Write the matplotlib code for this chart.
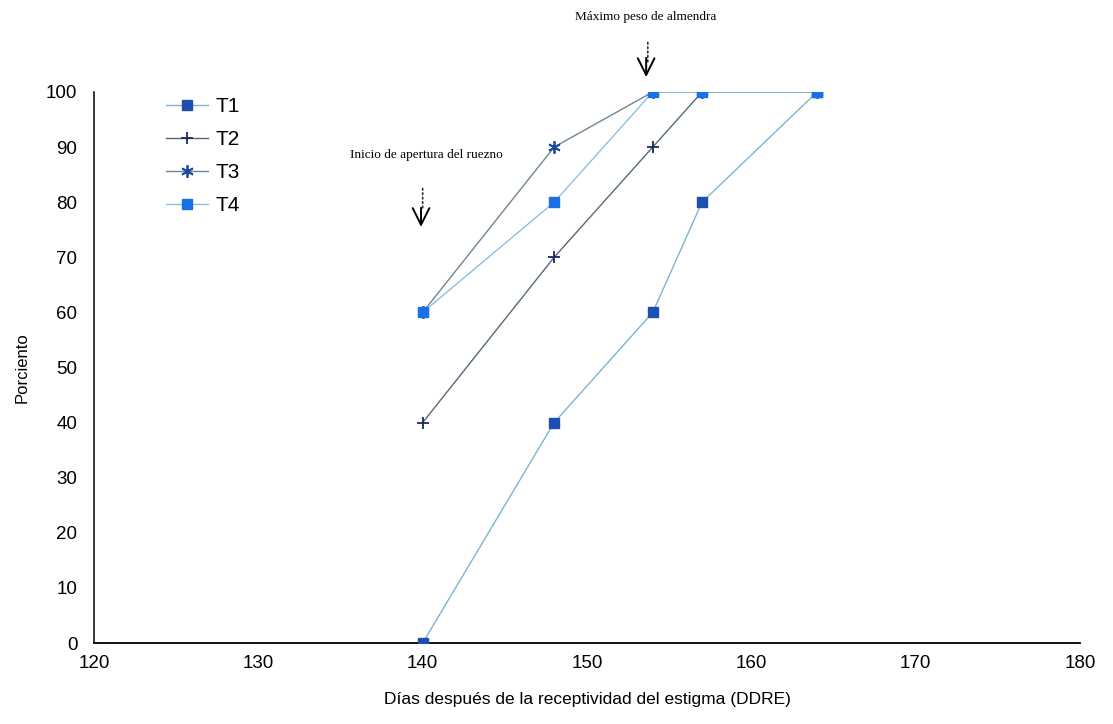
import numpy as np
import matplotlib
matplotlib.use('Agg')
import matplotlib.pyplot as plt

dias = [140, 148, 154, 157, 164]
t1 = [0, 40, 60, 80, 100]
t2 = [40, 70, 90, 100, 100]
t3 = [60, 90, 100, 100, 100]
t4 = [60, 80, 100, 100, 100]
xticks = [120, 130, 140, 150, 160, 170, 180]
yticks = [0, 10, 20, 30, 40, 50, 60, 70, 80, 90, 100]

plt.rcParams['font.family'] = ['Liberation Sans', 'DejaVu Sans']

fig = plt.figure(figsize=(11.13, 7.24), dpi=100)
ax = fig.add_axes([94/1113, 1-643/724, (1080-94)/1113, (643-92)/724])

ax.plot(dias, t1, c='#7fb3d3', lw=1, marker='s', ms=7, mfc='#1c4fb0', mec='#1c4fb0', label='T1', zorder=3)
ax.plot(dias, t2, c='#55697a', lw=1, marker='+', ms=8, mew=1.3, mec='#1a2a60', label='T2', zorder=3)
ax.plot(dias, t3, c='#6f8596', lw=1, marker=(6, 2, 0), ms=9, mew=1.3, mec='#1f4a9a', label='T3', zorder=3)
ax.plot(dias, t4, c='#8cc0e0', lw=1, marker='s', ms=7, mfc='#1a70e6', mec='#1a70e6', label='T4', zorder=4)

ax.set_xlim(120, 180)
ax.set_ylim(0, 100)
ax.set_xticks(xticks)
ax.set_yticks(yticks)
ax.tick_params(axis='x', length=0, pad=9, labelsize=13.5)
ax.tick_params(axis='y', length=0, pad=12, labelsize=13.5)
for s in ['top', 'right']:
    ax.spines[s].set_visible(False)
ax.spines['left'].set_linewidth(1.1)
ax.spines['bottom'].set_linewidth(1.3)

ax.set_xlabel('Días después de la receptividad del estigma (DDRE)', fontsize=12.5, labelpad=14)
ax.set_ylabel('Porciento', fontsize=12, labelpad=12)

leg = ax.legend(loc='upper left', bbox_to_anchor=(0.054, 1.025), frameon=False, fontsize=15,
                handlelength=2.0, handletextpad=0.4, labelspacing=0.67)

# anotaciones con flechas punteadas
serif = ['Liberation Serif', 'DejaVu Serif']
ax.text(140.2, 88.5, 'Inicio de apertura del ruezno', ha='center', va='center', fontsize=9.5,
        family=serif, clip_on=False)
ax.annotate('', xy=(140, 78), xytext=(140, 83),
            arrowprops=dict(arrowstyle='-', ls=':', lw=1.2, color='#333333'))
ax.annotate('', xy=(139.9, 75.0), xytext=(139.9, 79.5),
            arrowprops=dict(arrowstyle='->, head_length=1.2, head_width=0.6', lw=1.4, color='black'))

ax.text(153.6, 113.6, 'Máximo peso de almendra', ha='center', va='center', fontsize=9.5,
        family=serif, clip_on=False)
ax.annotate('', xy=(153.7, 105), xytext=(153.7, 109.5),
            arrowprops=dict(arrowstyle='-', ls=':', lw=1.2, color='#333333'), annotation_clip=False)
ax.annotate('', xy=(153.6, 102.2), xytext=(153.6, 106.7),
            arrowprops=dict(arrowstyle='->, head_length=1.2, head_width=0.6', lw=1.4, color='black'),
            annotation_clip=False)

fig.savefig('out.png', dpi=100)
